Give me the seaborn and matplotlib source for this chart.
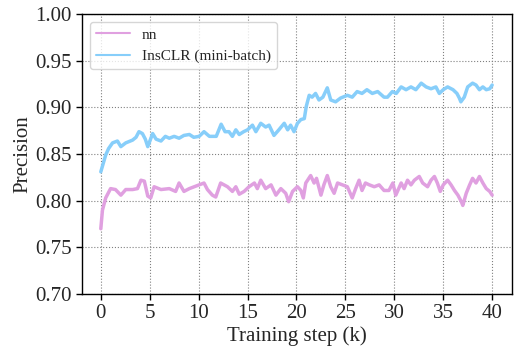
import matplotlib
matplotlib.use("Agg")
import matplotlib.pyplot as plt
import seaborn as sns
import pandas as pd

# values (training step in k, precision)
nn_step = [0.0, 0.17, 0.5, 1.0, 1.5, 2.05, 2.55, 3.25, 3.75, 4.1, 4.45, 4.8, 5.1, 5.45,
           6.15, 7.0, 7.65, 8.0, 8.5, 9.05, 10.05, 10.55, 10.9, 11.4, 11.75, 12.25,
           12.95, 13.45, 13.8, 14.15, 14.65, 15.15, 15.7, 16.0, 16.35, 16.85, 17.4,
           17.9, 18.4, 18.9, 19.2, 19.6, 20.1, 20.45, 20.7, 20.95, 21.45, 21.8, 22.05,
           22.5, 22.8, 23.15, 23.5, 23.85, 24.2, 24.7, 25.2, 25.7, 26.05, 26.4, 26.7,
           27.05, 27.45, 27.95, 28.45, 28.95, 29.45, 29.85, 30.15, 30.7, 31.0, 31.35,
           31.7, 32.05, 32.55, 32.9, 33.4, 33.75, 34.1, 34.4, 34.7, 35.0, 35.45, 35.8,
           36.15, 36.5, 36.85, 37.0, 37.35, 37.7, 38.0, 38.35, 38.7, 39.05, 39.4,
           39.75, 40.0]
nn_prec = [0.770, 0.790, 0.803, 0.813, 0.812, 0.806, 0.812, 0.812, 0.813, 0.822, 0.821,
           0.805, 0.803, 0.815, 0.812, 0.813, 0.810, 0.819, 0.810, 0.813, 0.817, 0.819,
           0.812, 0.806, 0.804, 0.819, 0.815, 0.810, 0.815, 0.807, 0.810, 0.815, 0.819,
           0.813, 0.822, 0.813, 0.817, 0.806, 0.813, 0.808, 0.799, 0.810, 0.815, 0.811,
           0.803, 0.819, 0.827, 0.819, 0.824, 0.806, 0.817, 0.827, 0.815, 0.808, 0.819,
           0.817, 0.815, 0.803, 0.813, 0.822, 0.811, 0.819, 0.817, 0.815, 0.817, 0.811,
           0.811, 0.819, 0.806, 0.819, 0.813, 0.822, 0.817, 0.822, 0.826, 0.819, 0.815,
           0.822, 0.826, 0.819, 0.810, 0.817, 0.822, 0.817, 0.811, 0.806, 0.799, 0.795,
           0.808, 0.817, 0.824, 0.819, 0.826, 0.819, 0.813, 0.810, 0.806]

ins_step = [0.0, 0.25, 0.5, 0.8, 1.2, 1.7, 2.05, 2.55, 3.25, 3.6, 3.9, 4.25, 4.55, 4.8,
            5.3, 5.65, 6.15, 6.6, 7.0, 7.5, 8.0, 8.5, 9.05, 9.5, 10.05, 10.55, 11.1,
            11.8, 12.3, 12.7, 13.1, 13.45, 13.8, 14.15, 14.6, 15.0, 15.5, 15.85, 16.35,
            16.85, 17.2, 17.7, 18.2, 18.75, 19.1, 19.4, 19.75, 20.1, 20.45, 20.8, 21.0,
            21.3, 21.6, 21.95, 22.3, 22.7, 23.15, 23.5, 24.0, 24.5, 25.2, 25.7, 26.2,
            26.7, 27.2, 27.75, 28.3, 28.95, 29.3, 29.8, 30.2, 30.7, 31.2, 31.7, 32.2,
            32.75, 33.25, 33.75, 34.25, 34.6, 35.0, 35.45, 36.0, 36.4, 36.65, 36.8,
            37.15, 37.5, 38.0, 38.35, 38.7, 39.05, 39.4, 39.75, 40.0]
ins_prec = [0.831, 0.840, 0.849, 0.856, 0.862, 0.864, 0.858, 0.862, 0.865, 0.868, 0.874,
            0.872, 0.866, 0.858, 0.872, 0.866, 0.864, 0.869, 0.867, 0.869, 0.867, 0.870,
            0.871, 0.868, 0.869, 0.874, 0.869, 0.869, 0.882, 0.874, 0.874, 0.869, 0.876,
            0.871, 0.874, 0.876, 0.881, 0.874, 0.883, 0.879, 0.881, 0.870, 0.876, 0.883,
            0.876, 0.881, 0.874, 0.883, 0.887, 0.888, 0.901, 0.913, 0.911, 0.915, 0.908,
            0.911, 0.921, 0.908, 0.906, 0.910, 0.913, 0.911, 0.917, 0.915, 0.919, 0.915,
            0.917, 0.911, 0.911, 0.917, 0.915, 0.922, 0.919, 0.922, 0.919, 0.926, 0.922,
            0.920, 0.922, 0.915, 0.919, 0.922, 0.919, 0.915, 0.910, 0.906, 0.911, 0.922,
            0.926, 0.924, 0.919, 0.922, 0.919, 0.920, 0.924]

labels = ["nn", "InsCLR (mini-batch)"]
colors = ["#e0a0e0", "#87cefa"]
x_ticks = [0, 5, 10, 15, 20, 25, 30, 35, 40]
y_ticks = [0.70, 0.75, 0.80, 0.85, 0.90, 0.95, 1.00]

sns.set_style("ticks")
plt.rcParams["font.family"] = ["Liberation Serif", "DejaVu Serif"]

f, ax = plt.subplots(figsize=(5.27, 3.53), dpi=100)
f.subplots_adjust(left=0.156, right=0.971, top=0.960, bottom=0.167)

sns.lineplot(x=nn_step, y=nn_prec, color=colors[0], lw=2.5, label=labels[0], ax=ax)
sns.lineplot(x=ins_step, y=ins_prec, color=colors[1], lw=2.5, label=labels[1], ax=ax)

ax.set_xlim(-1.9, 42)
ax.set_ylim(0.70, 1.00)
ax.set_xticks(x_ticks)
ax.set_yticks(y_ticks, labels=[f"{v:.2f}" for v in y_ticks])
ax.tick_params("both", labelsize=15, length=4, width=1, direction="out", color="black")
ax.grid(color="gray", linestyle=":", linewidth=0.8)
for s in ax.spines.values():
    s.set_color("black")
    s.set_linewidth(1)
    s.set_visible(True)

ax.set_xlabel("Training step (k)", fontsize=15, labelpad=2)
ax.set_ylabel("Precision", fontsize=15, labelpad=2)

leg = ax.legend(loc="upper left", fontsize=11, frameon=True, fancybox=True,
                edgecolor="#cccccc", handlelength=2.2)
for h in leg.get_lines():
    h.set_linewidth(1.5)

plt.savefig("out.png")
